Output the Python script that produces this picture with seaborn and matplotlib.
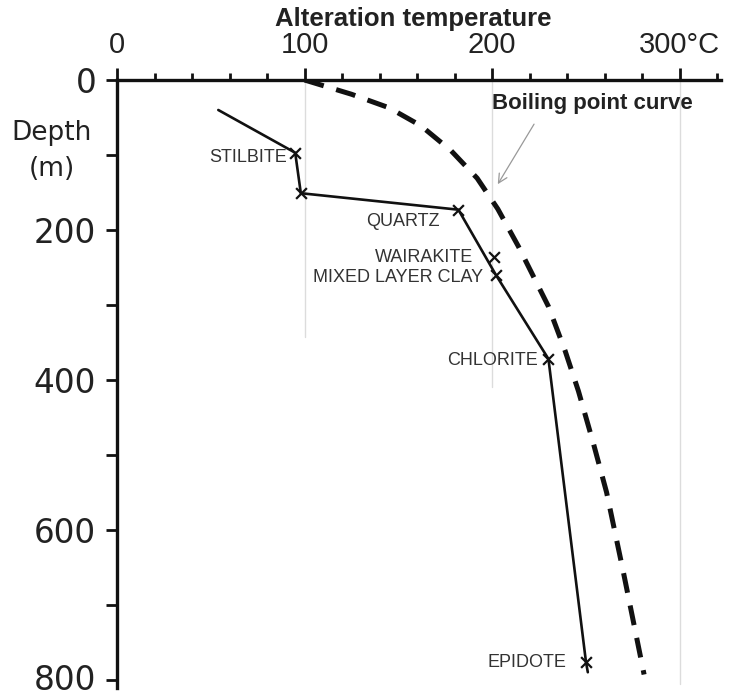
import matplotlib
matplotlib.use("Agg")
import matplotlib.pyplot as plt
import matplotlib.transforms as mtransforms
import seaborn as sns
import pandas as pd
import numpy as np

# ---- data ----
trend_temp = [54, 95, 98, 182, 202, 230, 250, 251]
trend_depth = [40, 97, 151, 173, 260, 372, 776, 790]

mineral_names = ["STILBITE", "", "QUARTZ", "WAIRAKITE", "MIXED LAYER CLAY", "CHLORITE", "EPIDOTE"]
mineral_temp = [95, 98, 182, 201, 202, 230, 250]
mineral_depth = [97, 151, 173, 236, 260, 372, 776]

boil_temp = [100, 125, 145, 162, 178, 192, 203, 214, 222, 230, 239, 246, 254, 261, 270, 281]
boil_depth = [0, 19, 37, 61, 94, 131, 172, 222, 262, 302, 362, 415, 485, 550, 657, 793]

grid_temp = [100, 200, 300]
grid_depth_end = [343, 409, 806]

x_major = [0, 100, 200, 300]
x_labels = ["0", "100", "200", "300°C"]
y_major = [0, 200, 400, 600, 800]
y_labels = ["0", "200", "400", "600", "800"]

sns.set_theme(style="white")
plt.rcParams["font.family"] = ["Liberation Sans", "DejaVu Sans"]

W, H = 739, 697
fig = plt.figure(figsize=(W / 100, H / 100), dpi=100)
left = 117 / W
right = 721 / W
top = 1 - 80 / H
bottom = 1 - 688 / H
ax = fig.add_axes([left, bottom, right - left, top - bottom])

ax.set_xlim(0, 322)
ax.set_ylim(811, 0)

# grid lines
for gt, ge in zip(grid_temp, grid_depth_end):
    ax.plot([gt, gt], [0, ge], color="#dcdcdc", lw=1.0, zorder=0)

trend = pd.DataFrame({"temp": trend_temp, "depth": trend_depth})
sns.lineplot(data=trend, x="temp", y="depth", sort=False, estimator=None,
             color="#111111", lw=1.9, ax=ax, zorder=3)

boil = pd.DataFrame({"temp": boil_temp, "depth": boil_depth})
sns.lineplot(data=boil, x="temp", y="depth", sort=False, estimator=None,
             color="#111111", lw=3.6, ax=ax, zorder=3, dashes=False)
ax.lines[-1].set_dashes([4.0, 2.6])
ax.lines[-1].set_dash_capstyle("butt")
ax.lines[-1].set_solid_joinstyle("round")

minerals = pd.DataFrame({"temp": mineral_temp, "depth": mineral_depth})
sns.scatterplot(data=minerals, x="temp", y="depth", marker="x", s=60,
                color="#111111", linewidth=1.6, ax=ax, zorder=4)

# mineral labels
offsets = {
    "STILBITE": (-8, 5),
    "QUARTZ": (-19, 12),
    "WAIRAKITE": (-21, 1),
    "MIXED LAYER CLAY": (-13, 3),
    "CHLORITE": (-11, 2),
    "EPIDOTE": (-20, 1),
}
for name, t, d in zip(mineral_names, mineral_temp, mineral_depth):
    if not name:
        continue
    dx, dy = offsets[name]
    ax.annotate(name, (t, d), xytext=(dx * 0.72, -dy * 0.72), textcoords="offset points",
                ha="right", va="center", fontsize=13, color="#333333",
                family=["Liberation Sans", "DejaVu Sans"])

# boiling point annotation
ax.annotate("Boiling point curve", xy=(203, 139), xytext=(200, 31),
            ha="left", va="center", fontsize=16, fontweight="bold", color="#222222",
            arrowprops=dict(arrowstyle="->", color="#999999", lw=0.9,
                            shrinkA=6, shrinkB=0,
                            connectionstyle="arc3,rad=0",
                            relpos=(0.24, 0.0)))

# axes styling
for s in ["right", "bottom"]:
    ax.spines[s].set_visible(False)
for s in ["top", "left"]:
    ax.spines[s].set_visible(True)
    ax.spines[s].set_color("#111111")
    ax.spines[s].set_linewidth(2.4)

ax.xaxis.set_ticks_position("top")
ax.xaxis.set_label_position("top")
ax.set_xticks(x_major)
ax.set_xticklabels(x_labels, family=["Liberation Sans Narrow", "Liberation Sans", "DejaVu Sans"],
                   fontsize=21, color="#222222")
ax.set_xticks(np.arange(20, 321, 20), minor=True)
ax.tick_params(axis="x", which="major", direction="out", length=9, width=2.0,
               color="#111111", pad=6, top=True, bottom=False)
ax.tick_params(axis="x", which="minor", direction="out", length=5, width=2.0,
               color="#111111", top=True, bottom=False)

ax.set_yticks(y_major)
ax.set_yticklabels(y_labels, family=["DejaVu Sans"], fontsize=23.5, color="#222222")
ax.set_yticks(np.arange(100, 801, 200), minor=True)
ax.tick_params(axis="y", which="both", direction="out", length=8, width=2.0,
               color="#111111", pad=7, left=True, right=False)

# keep the lowest depth label fully inside the canvas
last_lab = ax.yaxis.get_major_ticks()[-1].label1
last_lab.set_transform(last_lab.get_transform() +
                       mtransforms.ScaledTranslation(0, 3 / 100, fig.dpi_scale_trans))

ax.set_xlabel("")
ax.set_ylabel("")

fig.text(413 / W, 1 - 19 / H, "Alteration temperature", ha="center", va="center",
         fontsize=18.5, fontweight="bold", color="#222222")
fig.text(52 / W, 1 - 151 / H, "Depth\n(m)", ha="center", va="center",
         fontsize=19, color="#222222", family=["DejaVu Sans"], linespacing=1.5)

fig.savefig("out.png", dpi=100)
